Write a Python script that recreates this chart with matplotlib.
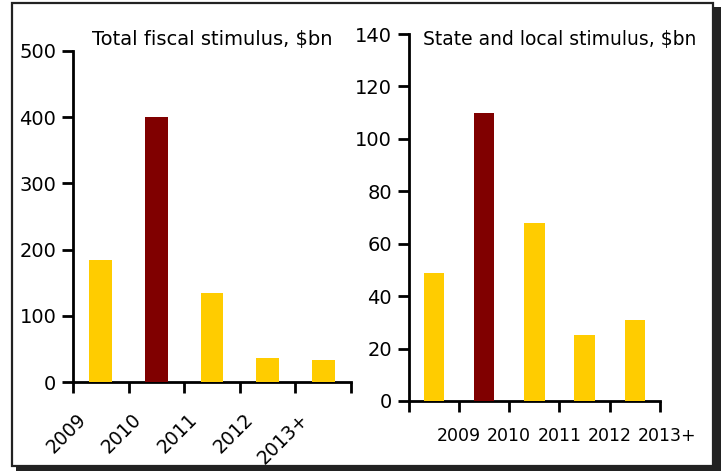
import matplotlib.pyplot as plt
from matplotlib.patches import Rectangle
from matplotlib.transforms import ScaledTranslation

# data
years = ['2009', '2010', '2011', '2012', '2013+']
total_stimulus = [184, 400, 134, 36, 33]
state_local = [49, 110, 68, 25, 31]
bar_colors = ['#FFCC00', '#800000', '#FFCC00', '#FFCC00', '#FFCC00']

W, H = 723, 471
fig = plt.figure(figsize=(W / 100, H / 100), dpi=100)
plt.rcParams['font.family'] = 'DejaVu Sans'

def fx(px):
    return px / W

def fy(py):
    return 1 - py / H

# cadre avec ombre (sous les axes)
fig.patches.append(Rectangle((fx(16), fy(471)), fx(721) - fx(16), fy(7) - fy(471),
                             transform=fig.transFigure, facecolor='#222222', edgecolor='none', zorder=-2))
fig.patches.append(Rectangle((fx(12), fy(466)), fx(713) - fx(12), fy(3) - fy(466),
                             transform=fig.transFigure, facecolor='white', edgecolor='#222222',
                             linewidth=1.6, zorder=-1))


def style_axes(ax):
    for s in ['top', 'right']:
        ax.spines[s].set_visible(False)
    for s in ['left', 'bottom']:
        ax.spines[s].set_linewidth(2)
        ax.spines[s].set_color('black')
    ax.patch.set_visible(False)
    ax.set_xlim(-0.5, 4.5)
    ax.set_xticks([i - 0.5 for i in range(6)])
    ax.tick_params(axis='both', which='major', length=8, width=2, direction='out')
    ax.tick_params(axis='y', labelsize=14, pad=4)


# graphique de gauche
ax1 = fig.add_axes([fx(73), fy(382), fx(351) - fx(73), fy(51) - fy(382)])
ax1.bar(range(len(years)), total_stimulus, width=0.41, color=bar_colors, zorder=3)
style_axes(ax1)
ax1.set_ylim(0, 500)
ax1.set_yticks(range(0, 501, 100))
ax1.set_xticklabels([])
ax1.set_xticks(range(len(years)), minor=True)
ax1.set_xticklabels(years, minor=True, rotation=45, ha='right', va='top', fontsize=13.5)
ax1.tick_params(axis='x', which='minor', length=0, pad=20)
off = ScaledTranslation(-11 / 100, 0, fig.dpi_scale_trans)
for lab in ax1.get_xticklabels(minor=True):
    lab.set_transform(lab.get_transform() + off)

# graphique de droite
ax2 = fig.add_axes([fx(408.7), fy(401), fx(660) - fx(408.7), fy(34) - fy(401)])
ax2.bar(range(len(years)), state_local, width=0.41, color=bar_colors, zorder=3)
style_axes(ax2)
ax2.set_ylim(0, 140)
ax2.set_yticks(range(0, 141, 20))
ax2.set_xticklabels([''] + years, fontsize=12.5, ha='left')
ax2.tick_params(axis='x', which='major', pad=11)
off2 = ScaledTranslation(-22 / 100, 0, fig.dpi_scale_trans)
for lab in ax2.get_xticklabels():
    lab.set_transform(lab.get_transform() + off2)

fig.text(fx(92), fy(39), 'Total fiscal stimulus, $bn', fontsize=14, va='center', ha='left')
fig.text(fx(423), fy(39), 'State and local stimulus, $bn', fontsize=13.5, va='center', ha='left')

fig.savefig('out.png', dpi=100)
